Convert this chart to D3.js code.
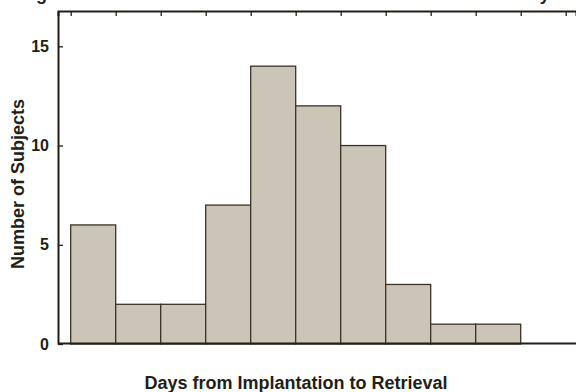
<!DOCTYPE html>
<html><head><meta charset="utf-8">
<script src="https://cdn.jsdelivr.net/npm/d3@7"></script>
<style>html,body{margin:0;padding:0;background:#fff;overflow:hidden}svg{display:block}</style>
</head><body><div id="chart"></div>
<script>
// Data
const bins = ["1", "2", "3", "4", "5", "6", "7", "8", "9", "10"];
const counts = [6, 2, 2, 7, 14, 12, 10, 3, 1, 1];
const yTicks = [0, 5, 10, 15];
const titleText = "Figure 1. Dwell Time of Filters Removed in the Retrieval Study";
const xTitle = "Days from Implantation to Retrieval";
const yTitle = "Number of Subjects";

const W = 576, H = 392;
const ink = "#231e16";
const svg = d3.select("#chart").append("svg").attr("width", W).attr("height", H);

const x = d3.scaleLinear().domain([-0.282, 11.229]).range([58, 576]);
const y = d3.scaleLinear().domain([0, 16.78]).range([344, 11]);

// bars
svg.append("g").selectAll("rect").data(counts).join("rect")
  .attr("x", (d, i) => x(i))
  .attr("y", d => y(d))
  .attr("width", (d, i) => x(i + 1) - x(i))
  .attr("height", d => y(0) - y(d))
  .attr("fill", "#cbc5b8")
  .attr("stroke", "#3b3427")
  .attr("stroke-width", 1.3);

// top frame line with inward ticks
const topAxis = d3.axisTop(x).tickValues(d3.range(0, bins.length + 2)).tickSize(-5).tickFormat("");
const gTop = svg.append("g").attr("transform", `translate(0,${y.range()[1]})`).call(topAxis);
gTop.select(".domain").attr("stroke", ink).attr("stroke-width", 2);
gTop.selectAll(".tick line").attr("stroke", ink).attr("stroke-width", 1.3);

// bottom axis line
const bottomAxis = d3.axisBottom(x).tickValues([]).tickSizeOuter(0);
const gBot = svg.append("g").attr("transform", `translate(0,${y(0) - 1})`).call(bottomAxis);
gBot.select(".domain").attr("stroke", ink).attr("stroke-width", 2.2);

// left axis
const leftAxis = d3.axisLeft(y).tickValues(yTicks).tickSize(-5).tickSizeOuter(0).tickPadding(9);
const gLeft = svg.append("g").attr("transform", `translate(58,0)`).call(leftAxis);
gLeft.select(".domain").attr("stroke", ink).attr("stroke-width", 2);
gLeft.selectAll(".tick line").attr("stroke", ink).attr("stroke-width", 1.3);
gLeft.selectAll(".tick text")
  .attr("fill", ink)
  .style("font-family", "'Liberation Sans', Arial, sans-serif")
  .style("font-weight", "bold").style("font-size", "16px");

// titles
svg.append("text").attr("x", 296).attr("y", 389).attr("text-anchor", "middle")
  .attr("fill", ink)
  .style("font-family", "'Liberation Sans', Arial, sans-serif")
  .style("font-weight", "bold").style("font-size", "18px").text(xTitle);

svg.append("text").attr("transform", "translate(24,184) rotate(-90)").attr("text-anchor", "middle")
  .attr("fill", ink)
  .style("font-family", "'Liberation Sans', Arial, sans-serif")
  .style("font-weight", "bold").style("font-size", "18px").text(yTitle);

svg.append("text").attr("x", 20).attr("y", -0.5).attr("text-anchor", "start")
  .attr("fill", ink)
  .style("font-family", "'Liberation Sans', Arial, sans-serif")
  .style("font-weight", "bold").style("font-size", "18px").text(titleText);
</script></body></html>
